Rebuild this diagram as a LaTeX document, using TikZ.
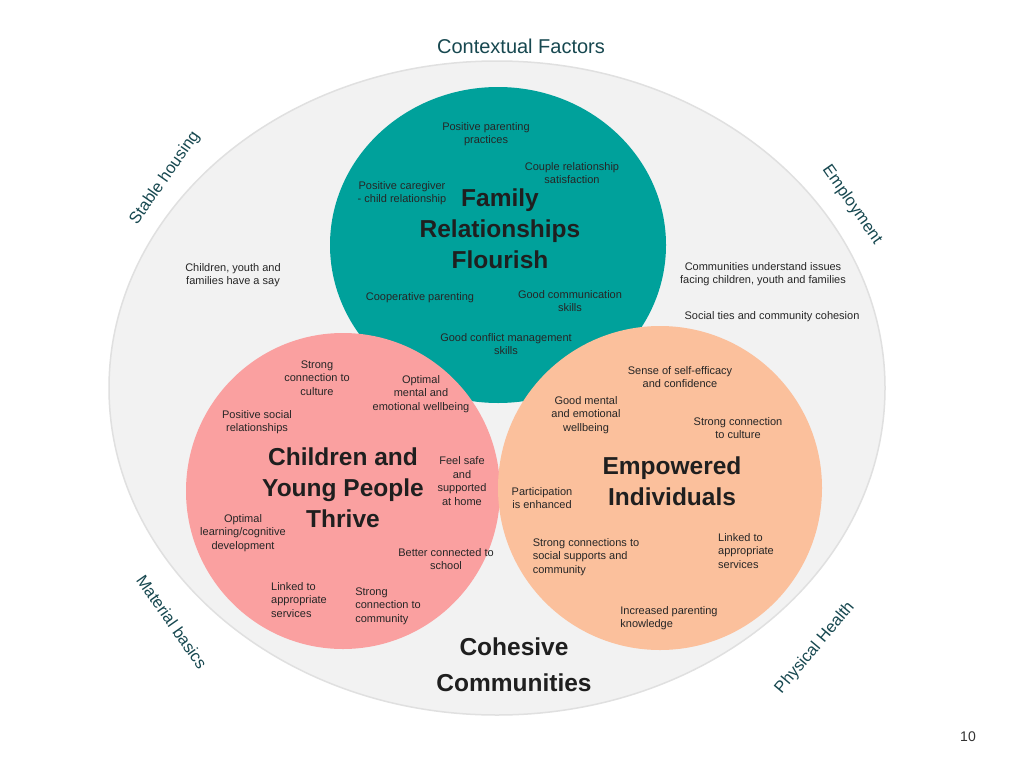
\documentclass[tikz,border=0pt]{standalone}
\usepackage{fontspec}
\setmainfont{Liberation Sans}
\begin{document}
\begin{tikzpicture}[x=1pt,y=-1pt,
 sm/.style={font=\fontsize{11}{13.5}\selectfont,text=black!85,align=center,inner sep=0},
 big/.style={font=\fontsize{24.5}{31}\selectfont\bfseries,text=black!88,align=center,inner sep=0},
 ctx/.style={font=\fontsize{16.5}{19}\selectfont,text=ctxc,inner sep=0}]
\definecolor{tealc}{RGB}{0,161,155}
\definecolor{pinkc}{RGB}{250,160,160}
\definecolor{peachc}{RGB}{251,192,156}
\definecolor{ctxc}{RGB}{23,72,80}
\useasboundingbox (0,0) rectangle (1024,768);
\fill[white] (0,0) rectangle (1024,768);
\draw[fill=black!5,draw=black!12,line width=1.5pt] (497,388) ellipse [x radius=388,y radius=327];
\fill[tealc] (498,245) ellipse [x radius=168,y radius=158];
\fill[pinkc] (343,491) ellipse [x radius=157,y radius=158];
\fill[peachc] (660,488) ellipse [x radius=162,y radius=162];
\node[ctx,font=\fontsize{20}{22}\selectfont] (ctx) at (521,46) {Contextual Factors};
\node[ctx,rotate=55] (sh) at (165,178) {Stable housing};
\node[ctx,rotate=-55] (em) at (852,205) {Employment};
\node[ctx,rotate=-55] (mb) at (172,622) {Material basics};
\node[ctx,rotate=50] (ph) at (815,648) {Physical Health};
% family
\node[sm] (f1) at (486,134) {Positive parenting\\practices};
\node[sm] (f2) at (572,173) {Couple relationship\\satisfaction};
\node[sm] (f3) at (402,193) {Positive caregiver\\- child relationship};
\node[big] (fam) at (500,229) {Family\\Relationships\\Flourish};
\node[sm] (f4) at (420,298) {Cooperative parenting};
\node[sm] (f5) at (570,301) {Good communication\\skills};
\node[sm] (f6) at (506,344) {Good conflict management\\skills};
\node[sm] (o1) at (233,275) {Children, youth and\\families have a say};
\node[sm] (o2) at (763,274) {Communities understand issues\\facing children, youth and families};
\node[sm] (o3) at (772,317) {Social ties and community cohesion};
% children
\node[sm] (c1) at (317,378) {Strong\\connection to\\culture};
\node[sm] (c2) at (421,394) {Optimal\\mental and\\emotional wellbeing};
\node[sm] (c3) at (257,422) {Positive social\\relationships};
\node[big] (chi) at (343,488) {Children and\\Young People\\Thrive};
\node[sm] (c4) at (462,481) {Feel safe\\and\\supported\\at home};
\node[sm] (c5) at (243,533) {Optimal\\learning/cognitive\\development};
\node[sm] (c6) at (446,559) {Better connected to\\school};
\node[sm,align=left] (c7) at (299,600) {Linked to\\appropriate\\services};
\node[sm,align=left] (c8) at (388,606) {Strong\\connection to\\community};
% empowered
\node[sm] (e1) at (680,377) {Sense of self-efficacy\\and confidence};
\node[sm] (e2) at (586,415) {Good mental\\and emotional\\wellbeing};
\node[sm] (e3) at (738,428) {Strong connection\\to culture};
\node[big] (emp) at (672,481) {Empowered\\Individuals};
\node[sm] (e4) at (542,498) {Participation\\is enhanced};
\node[sm,align=left] (e5) at (586,557) {Strong connections to\\social supports and\\community};
\node[sm,align=left] (e6) at (746,551) {Linked to\\appropriate\\services};
\node[sm,align=left] (e7) at (669,618) {Increased parenting\\knowledge};
\node[big,font=\fontsize{24.5}{36}\selectfont\bfseries] (coh) at (514,665) {Cohesive\\Communities};
\node[font=\fontsize{14}{16}\selectfont,text=black!80] (pg) at (968,737) {10};
\end{tikzpicture}
\end{document}
